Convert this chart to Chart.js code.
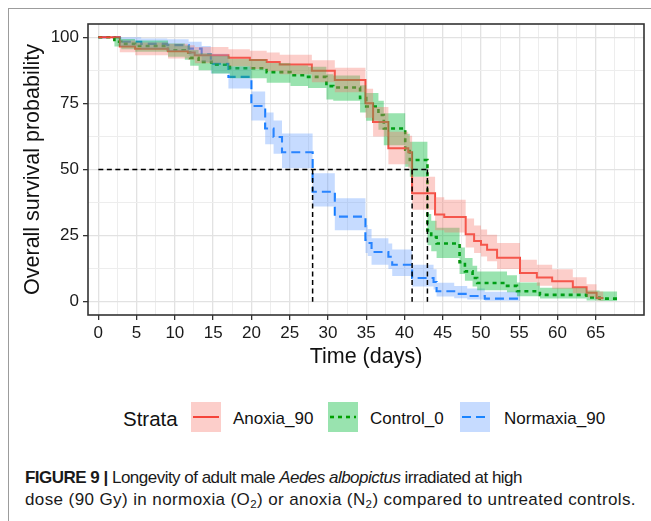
<!DOCTYPE html>
<html>
<head>
<meta charset="utf-8">
<script src="https://cdn.jsdelivr.net/npm/chart.js@4"></script>
<style>
html,body{margin:0;padding:0;background:#fff;}
body{width:651px;height:521px;position:relative;overflow:hidden;font-family:"Liberation Sans",Arial,sans-serif;color:#111;}
#frame{position:absolute;left:8px;top:8px;width:700px;height:600px;border-left:1px solid #9c9c9c;border-top:1px solid #9c9c9c;}
#c{position:absolute;left:0;top:0;}
.lg{position:absolute;white-space:nowrap;line-height:1;}
.key{position:absolute;}
#cap{position:absolute;left:25px;top:467px;font-size:17px;line-height:22px;color:#1a1a1a;white-space:nowrap;}
#cap span{display:inline-block;}
#cap sub{font-size:0.68em;line-height:0;vertical-align:-0.3em;}
</style>
</head>
<body>
<div id="frame"></div>
<canvas id="c" width="651" height="380"></canvas>
<div id="legend"></div>
<div id="cap"><span id="cl1"><b>FIGURE 9 |</b> Longevity of adult male <i>Aedes albopictus</i> irradiated at high</span><br><span id="cl2">dose (90 Gy) in normoxia (O<sub>2</sub>) or anoxia (N<sub>2</sub>) compared to untreated controls.</span></div>
<script>
// ---------- data ----------
const strata = ['Anoxia_90', 'Control_0', 'Normaxia_90'];

const anoxiaTime  = [0, 2.8, 4.8, 9.1, 11.7, 12.6, 17, 19.8, 22, 23.7, 27.9, 30.9, 34.9, 35.9, 37.9, 40.5, 41, 44, 45.2, 48, 49.1, 50, 50.8, 52.1, 55.1, 57.3, 59.3, 62, 63.8, 65.1, 66];
const anoxiaSurv  = [100, 96.5, 95.6, 94.7, 94.2, 93.2, 92.2, 91.4, 90.6, 89.7, 87.3, 83.8, 75, 68, 58, 56.5, 41, 33, 32, 25.5, 23, 21.6, 19.7, 16.6, 10.9, 9.2, 7.8, 5.5, 3.4, 1.4, 1.4];
const anoxiaLower = [100, 94.3, 93.2, 92, 91.5, 90.2, 89, 88, 87.1, 86, 83, 79.2, 69.6, 62.5, 52, 50.5, 34.8, 27, 26.2, 20.5, 18.4, 17.1, 15.3, 12.4, 7.5, 6.1, 4.9, 3.2, 1.7, 0.5, 0.5];
const anoxiaUpper = [100, 98.8, 98, 97.5, 97, 96.3, 95.5, 94.9, 94.2, 93.4, 91.3, 88.5, 80.5, 73.6, 64.3, 62.8, 47.3, 39.5, 38.6, 31.5, 28.8, 27.3, 25.3, 22.2, 15.9, 14, 12.3, 9.3, 6.6, 3.9, 3.9];

const controlTime  = [0, 2.1, 3.0, 4.8, 9.1, 11.3, 12, 13.1, 14.8, 17.2, 22, 25.1, 27.4, 29.8, 30.7, 34.2, 35, 36.6, 37.3, 40.1, 40.7, 43, 43.5, 44.2, 47.2, 47.9, 48.9, 49.5, 53.4, 54.7, 57.7, 63.8, 65.5, 67.8];
const controlSurv  = [100, 98.3, 97.5, 96.7, 95.1, 94.2, 92.2, 90.7, 89.6, 88.3, 86.8, 85.6, 85, 81.5, 81, 77, 73.8, 70.6, 65.5, 57.5, 53.6, 27, 24.5, 22, 15, 11.5, 9, 7.1, 6, 4, 2.6, 1.6, 1.2, 1.2];
const controlLower = [100, 96.5, 95.5, 94.5, 92.6, 91.5, 89.2, 87.5, 86.3, 84.5, 82.8, 81.6, 80.8, 76.5, 76, 71.5, 68.4, 65, 59.2, 51, 47.3, 21.4, 19.1, 16.5, 10.5, 7.9, 5.8, 4.4, 3.6, 2.1, 1.2, 0.5, 0.3, 0.3];
const controlUpper = [100, 100, 99.3, 98.8, 97.6, 96.9, 95.2, 93.9, 92.9, 91.8, 90.3, 89.3, 88.8, 86, 85.5, 81.8, 78.9, 76, 71.3, 63.5, 60.5, 33.2, 30.6, 28, 20.5, 16.5, 13.6, 11.4, 10, 7.3, 5.3, 4.3, 3.9, 3.9];

const normaxiaTime  = [0, 2.8, 5.6, 9, 11.8, 13.5, 14.7, 17, 20, 21.8, 22.9, 24, 28, 30.9, 34.9, 35.2, 35.7, 37.9, 38.4, 41, 43.8, 44.2, 46.5, 48.2, 50.5, 55.1];
const normaxiaSurv  = [100, 98.3, 97.5, 97, 95.7, 93.5, 90, 85, 74, 65.5, 62.3, 56.5, 41.6, 32.2, 23.4, 22.2, 18.8, 17, 14, 9, 7.5, 4, 3, 2.2, 1.2, 1.2];
const normaxiaLower = [100, 96.6, 95.5, 94.8, 93, 90.6, 86.3, 80.6, 68.5, 59.5, 56, 50.5, 36, 27, 18.4, 17.3, 14, 12.4, 9.7, 5.8, 4.6, 2, 1.3, 0.9, 0.4, 0.4];
const normaxiaUpper = [100, 100, 99.5, 99.2, 98.3, 96.7, 93.8, 88.9, 79.5, 71.5, 68.5, 63.6, 48.6, 39.1, 29, 27.5, 24, 22, 19.8, 14, 12.3, 7.2, 6, 5, 3.8, 3.8];

const medianTimes = [28, 41, 43];
const medianLevel = 50;

const xTickLabels = [0, 5, 10, 15, 20, 25, 30, 35, 40, 45, 50, 55, 60, 65];
const xGridValues = [0, 2.5, 5, 7.5, 10, 12.5, 15, 17.5, 20, 22.5, 25, 27.5, 30, 32.5, 35, 37.5, 40, 42.5, 45, 47.5, 50, 52.5, 55, 57.5, 60, 62.5, 65, 67.5, 70];
const yTickLabels = [0, 25, 50, 75, 100];
const yGridValues = [0, 12.5, 25, 37.5, 50, 62.5, 75, 87.5, 100];

// ---------- styles ----------
const FONT = '"Liberation Sans", Arial, sans-serif';
const styles = [
  {line: '#f5443a', key: '#f5443a', band: 'rgba(248,118,109,0.36)', dash: [], width: 2},
  {line: '#008c00', key: '#00a000', band: 'rgba(0,186,56,0.40)', dash: [4, 4], width: 2.6},
  {line: '#0a78ff', key: '#1a84ff', band: 'rgba(97,156,255,0.36)', dash: [9, 5], width: 2.1}
];

const series = [
  {t: anoxiaTime, s: anoxiaSurv, lo: anoxiaLower, hi: anoxiaUpper},
  {t: controlTime, s: controlSurv, lo: controlLower, hi: controlUpper},
  {t: normaxiaTime, s: normaxiaSurv, lo: normaxiaLower, hi: normaxiaUpper}
];

function pts(t, v) { return t.map((x, i) => ({x: x, y: v[i]})); }
function isIn(arr, v) { return arr.some(a => Math.abs(a - v) < 1e-6); }

// Kaplan-Meier step: the value at each time holds until the next time
const STEP = 'before';
const datasets = [];
series.forEach((s, i) => {
  const loIdx = datasets.length;
  datasets.push({data: pts(s.t, s.lo), stepped: STEP, borderWidth: 0, borderColor: 'rgba(0,0,0,0)', pointRadius: 0, fill: false, order: 1});
  datasets.push({data: pts(s.t, s.hi), stepped: STEP, borderWidth: 0, borderColor: 'rgba(0,0,0,0)', pointRadius: 0, fill: loIdx, backgroundColor: styles[i].band, order: 1});
});
series.forEach((s, i) => {
  datasets.push({data: pts(s.t, s.s), stepped: STEP, borderColor: styles[i].line, borderWidth: styles[i].width, borderDash: styles[i].dash, pointRadius: 0, fill: false, order: 5});
});
const medStyle = {borderColor: '#000', borderWidth: 1.5, borderDash: [5, 3.5], pointRadius: 0, fill: false, order: 0};
datasets.push(Object.assign({data: [{x: 0, y: medianLevel}, {x: Math.max(...medianTimes), y: medianLevel}]}, medStyle));
medianTimes.forEach(t => {
  datasets.push(Object.assign({data: [{x: t, y: medianLevel}, {x: t, y: 0}]}, medStyle));
});

const panelBorder = {
  id: 'panelBorder',
  afterDatasetsDraw(chart) {
    const {ctx, chartArea: a} = chart;
    ctx.save();
    ctx.strokeStyle = '#333';
    ctx.lineWidth = 1.6;
    ctx.setLineDash([]);
    ctx.strokeRect(a.left, a.top, a.right - a.left, a.bottom - a.top);
    ctx.restore();
  }
};

new Chart(document.getElementById('c'), {
  type: 'line',
  data: {datasets: datasets},
  plugins: [panelBorder],
  options: {
    responsive: false,
    animation: false,
    devicePixelRatio: 1,
    layout: {padding: {left: 0, top: 24, right: 7, bottom: 0}},
    plugins: {
      legend: {display: false},
      tooltip: {enabled: false},
      filler: {drawTime: 'beforeDatasetDraw', propagate: false}
    },
    elements: {line: {tension: 0}},
    scales: {
      x: {
        type: 'linear', min: -1.35, max: 71.3,
        afterBuildTicks: a => { a.ticks = xGridValues.map(v => ({value: v})); },
        afterFit: a => { a.height = 65; },
        ticks: {autoSkip: false, maxRotation: 0, minRotation: 0, padding: 3, color: '#1a1a1a',
          font: {family: FONT, size: 17},
          callback: v => isIn(xTickLabels, v) ? String(v) : ''},
        grid: {
          color: c => isIn(xTickLabels, c.tick.value) ? '#e2e2e2' : '#ededed',
          lineWidth: c => isIn(xTickLabels, c.tick.value) ? 1.3 : 1,
          tickLength: 5,
          tickColor: c => isIn(xTickLabels, c.tick.value) ? '#333' : 'rgba(0,0,0,0)',
          tickWidth: 1.3
        },
        border: {display: false},
        title: {display: true, text: 'Time (days)', color: '#111', font: {family: FONT, size: 21.5}, padding: {top: 0, bottom: 10}}
      },
      y: {
        type: 'linear', min: -5, max: 105,
        afterBuildTicks: a => { a.ticks = yGridValues.map(v => ({value: v})); },
        afterFit: a => { a.width = 88; },
        ticks: {autoSkip: false, padding: 4, color: '#1a1a1a',
          font: {family: FONT, size: 17},
          callback: v => isIn(yTickLabels, v) ? String(v) : ''},
        grid: {
          color: c => isIn(yTickLabels, c.tick.value) ? '#e2e2e2' : '#ededed',
          lineWidth: c => isIn(yTickLabels, c.tick.value) ? 1.3 : 1,
          tickLength: 5,
          tickColor: c => isIn(yTickLabels, c.tick.value) ? '#333' : 'rgba(0,0,0,0)',
          tickWidth: 1.3
        },
        border: {display: false},
        title: {display: true, text: 'Overall survival probability', color: '#111', font: {family: FONT, size: 21.5}, padding: {top: 20, bottom: 0}}
      }
    }
  }
});

// ---------- legend (HTML) ----------
const legend = document.getElementById('legend');
const keyLeft = [191, 328, 460];
const labelLeft = [233, 370, 504];
const title = document.createElement('div');
title.className = 'lg';
title.style.cssText = 'left:123px;top:409px;font-size:20.5px;';
title.textContent = 'Strata';
legend.appendChild(title);
strata.forEach((name, i) => {
  const k = document.createElement('canvas');
  k.className = 'key';
  k.width = 30; k.height = 30;
  k.style.left = keyLeft[i] + 'px';
  k.style.top = '402px';
  const g = k.getContext('2d');
  g.fillStyle = styles[i].band;
  g.fillRect(0, 0, 30, 30);
  g.strokeStyle = styles[i].key;
  g.lineWidth = styles[i].width;
  g.setLineDash(styles[i].dash);
  g.beginPath(); g.moveTo(2, 15); g.lineTo(28, 15); g.stroke();
  legend.appendChild(k);
  const l = document.createElement('div');
  l.className = 'lg';
  l.style.cssText = 'left:' + labelLeft[i] + 'px;top:410px;font-size:17px;';
  l.textContent = name;
  legend.appendChild(l);
});

// fit caption lines to the widths seen in the figure
[['cl1', 497], ['cl2', 611]].forEach(([id, w]) => {
  const el = document.getElementById(id);
  const n = el.textContent.length;
  const cur = el.getBoundingClientRect().width;
  el.style.letterSpacing = ((w - cur) / n).toFixed(3) + 'px';
});
</script>
</body>
</html>
